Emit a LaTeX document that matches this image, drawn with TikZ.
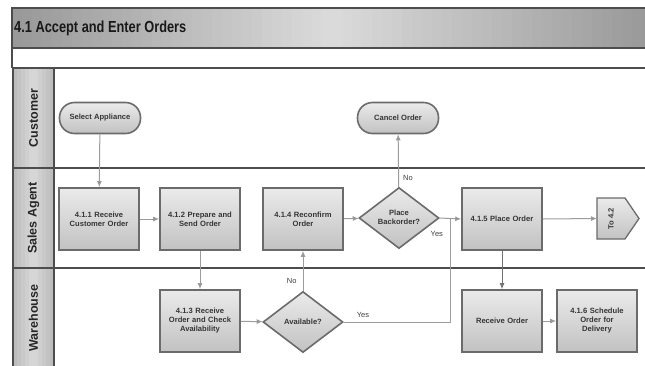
\documentclass[tikz,border=0pt]{standalone}
\usepackage{fontspec}
\setmainfont{Liberation Sans}
\usetikzlibrary{arrows.meta,shapes.geometric}
\definecolor{frame}{HTML}{4D4D4D}
\definecolor{boxline}{HTML}{6B6B6B}
\definecolor{boxtext}{HTML}{363636}
\definecolor{flow}{HTML}{9C9C9C}
\definecolor{flowtip}{HTML}{8A8A8A}
\tikzset{
  lanetitle/.style={rotate=90, font=\bfseries\fontsize{12.5}{13}\selectfont, text=black!85},
  boxbase/.style={draw=boxline, line width=1.6pt, top color=black!8, bottom color=black!24,
    text=boxtext, font=\bfseries\fontsize{7.6}{9}\selectfont, align=center, inner sep=0pt},
  proc/.style={boxbase, rectangle, minimum width=80pt, minimum height=62pt, text width=76pt},
  term/.style={boxbase, rectangle, rounded corners=15pt, minimum width=81pt, minimum height=31pt},
  decision/.style={boxbase, diamond, minimum width=80pt, minimum height=61pt},
  dtext/.style={text=boxtext, font=\bfseries\fontsize{7.6}{9}\selectfont, align=center, inner sep=0pt},
  conn/.style={draw=flow, line width=1pt, -{Latex[length=6pt,width=5pt,fill=flowtip]}},
  branch/.style={font=\fontsize{7.5}{8}\selectfont, text=black!75, inner sep=1pt}
}
\begin{document}
\begin{tikzpicture}[x=1pt,y=-1pt]
\useasboundingbox (0,0) rectangle (645,365);
\fill[white] (0,0) rectangle (645,365);

% title bar: horizontal gradient built from thin strips, light in the middle
\foreach \i in {0,...,63}{
  \pgfmathsetmacro\shadek{14+26*abs(\i-31.5)/31.5}
  \fill[black!\shadek] (12+\i*10,8) rectangle ++(10.6,40);
}
\draw[frame, line width=2pt] (648,8) -- (12,8) -- (12,48) -- (648,48);
\node[anchor=west, text=black!90, font=\bfseries\fontsize{16}{16}\selectfont, inner sep=0pt]
  (title) at (14,28) {\scalebox{0.8}[1]{4.1 Accept and Enter Orders}};

% spacer band under the title
\draw[frame, line width=1.2pt] (12,48) -- (12,68);

% swimlane header column, lighter towards its centre
\foreach \i in {0,...,9}{
  \pgfmathsetmacro\shadek{15+11*abs(\i-4.5)/4.5}
  \fill[black!\shadek] (13+\i*4.1,68) rectangle ++(4.4,299);
}
\node[lanetitle] (lcust) at (33.5,118) {Customer};
\node[lanetitle] (lsales) at (33.5,218) {Sales Agent};
\node[lanetitle] (lware) at (33.5,318) {Warehouse};

% swimlane borders
\draw[frame, line width=2pt] (13,68) -- (648,68);
\draw[frame, line width=2pt] (13,168) -- (648,168);
\draw[frame, line width=2pt] (13,268) -- (648,268);
\draw[frame, line width=1.6pt] (13,68) -- (13,367);
\draw[frame, line width=1.6pt] (54,68) -- (54,367);

% customer lane
\node[term] (sel) at (100,118) {Select Appliance};
\node[term] (cancel) at (398,118) {Cancel Order};

% sales agent lane
\node[proc] (r411) at (99,219) {4.1.1 Receive\\Customer Order};
\node[proc] (r412) at (200,219) {4.1.2 Prepare and\\Send Order};
\node[proc] (r414) at (303,219) {4.1.4 Reconfirm\\Order};
\node[decision] (bo) at (399,218) {};
\node[dtext] (botext) at (399,217) {Place\\Backorder?};
\node[proc] (r415) at (502,219) {4.1.5 Place Order};

% off-page reference to process 4.2
\path[boxbase, line width=1.3pt] (597,198) -- (625,198) -- (639,218.5) -- (625,239) -- (597,239) -- cycle;
\node[dtext, rotate=90] (to42) at (611,218.5) {To 4.2};
\coordinate (to42in) at (597,218.5);

% warehouse lane
\node[proc] (r413) at (200,321) {4.1.3 Receive\\Order and Check\\Availability};
\node[decision] (av) at (303,322) {};
\node[dtext] (avtext) at (303,322) {Available?};
\node[proc] (recv) at (502,321) {Receive Order};
\node[proc] (r416) at (597,321) {4.1.6 Schedule\\Order for\\Delivery};

% junction where the warehouse "Yes" path meets the sales flow
\coordinate (jx) at (450,219);

% connectors
\draw[conn] (sel) -- (r411);
\draw[conn] (r411) -- (r412);
\draw[conn] (r412) -- (r413);
\draw[conn] (r413) -- (av);
\draw[conn] (av) -- node[branch, pos=0.24, left=5pt] (no1) {No} (r414);
\draw[conn] (r414) -- (bo);
\draw[conn] (bo) -- node[branch, pos=0.18, right=3pt] (no2) {No} (cancel);
\draw[conn] (bo.east) -- node[branch, pos=0, below=12pt, xshift=-3pt] (yes1) {Yes} (r415.west);
\draw[flow, line width=1pt] (av.east) -| node[branch, pos=0.09, above=3pt] (yes2) {Yes} (jx);
\draw[conn, draw=frame!80] (r415) -- (recv);
\draw[conn] (r415.east) -- (to42in);
\draw[conn] (recv) -- (r416);
\end{tikzpicture}
\end{document}
